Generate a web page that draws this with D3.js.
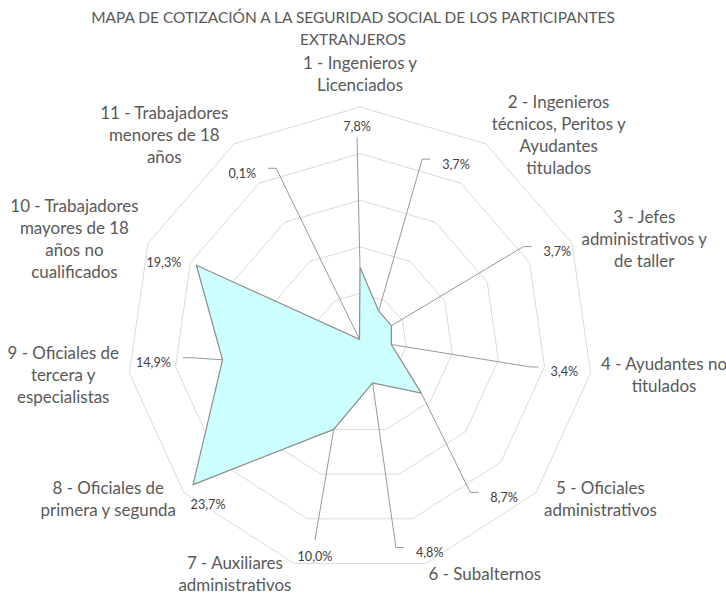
<!DOCTYPE html>
<html><head><meta charset="utf-8">
<script src="https://cdn.jsdelivr.net/npm/d3@7"></script>
<style>html,body{margin:0;padding:0;background:#fff;} svg{display:block}</style>
</head><body>
<svg id="chart" width="726" height="594"></svg>
<script>
// ---------- data ----------
const titleLines = ["MAPA DE COTIZACIÓN A LA SEGURIDAD SOCIAL DE LOS PARTICIPANTES", "EXTRANJEROS"];
const categories = [
  "1 - Ingenieros y Licenciados",
  "2 - Ingenieros técnicos, Peritos y Ayudantes titulados",
  "3 - Jefes administrativos y de taller",
  "4 - Ayudantes no titulados",
  "5 - Oficiales administrativos",
  "6 - Subalternos",
  "7 - Auxiliares administrativos",
  "8 - Oficiales de primera y segunda",
  "9 - Oficiales de tercera y especialistas",
  "10 - Trabajadores mayores de 18 años no cualificados",
  "11 - Trabajadores menores de 18 años"
];
const categoryLines = [
  ["1 - Ingenieros y", "Licenciados"],
  ["2 - Ingenieros", "técnicos, Peritos y", "Ayudantes", "titulados"],
  ["3 - Jefes", "administrativos y", "de taller"],
  ["4 - Ayudantes no", "titulados"],
  ["5 - Oficiales", "administrativos"],
  ["6 - Subalternos"],
  ["7 - Auxiliares", "administrativos"],
  ["8 - Oficiales de", "primera y segunda"],
  ["9 - Oficiales de", "tercera y", "especialistas"],
  ["10 - Trabajadores", "mayores de 18", "años no", "cualificados"],
  ["11 - Trabajadores", "menores de 18", "años"]
];
const values = [7.8, 3.7, 3.7, 3.4, 8.7, 4.8, 10.0, 23.7, 14.9, 19.3, 0.1];
const gridTicks = [5, 10, 15, 20, 25];
// data-label placement (radius in value units, angular nudge in degrees)
const labelRadius = [22.9, 21.5, 23.2, 22.2, 22.9, 24.0, 23.7, 24.0, 22.3, 22.6, 21.9];
const labelAngleShift = [-0.8, -4.1, 0.4, 0.7, 6.6, -1.8, -4.6, -6.3, 1.9, -3.1, -2.5];

// ---------- layout ----------
const cx = 360, cy = 340, R = 233;
const font = "Lato, 'Open Sans', sans-serif";
const svg = d3.select("#chart");

function textWidth(text, size) {
  const t = svg.append("text").attr("font-family", font).attr("font-size", size).text(text);
  const w = t.node().getComputedTextLength();
  t.remove();
  return w;
}
const catSize = 100 * 113 / textWidth("administrativos", 100);
const lblSize = 100 * 35 / textWidth("23,7%", 100);
const titleSize = 100 * 524 / textWidth(titleLines[0], 100);

const n = categories.length;
const angle = d3.scaleLinear().domain([0, n]).range([0, 2 * Math.PI]);
const r = d3.scaleLinear().domain([0, 25]).range([0, R]);
const pt = (a, rad) => [cx + rad * Math.sin(a), cy - rad * Math.cos(a)];
const fmt = v => d3.format(".1f")(v).replace(".", ",") + "%";

// title
svg.append("g").selectAll("text").data(titleLines).join("text")
  .attr("x", 353).attr("y", (d, i) => 18 + i * 22 + 0.35 * titleSize)
  .attr("text-anchor", "middle").attr("font-family", font).attr("font-size", titleSize)
  .attr("fill", "#595959").text(d => d);

const g = svg.append("g").attr("transform", `translate(${cx},${cy})`);

// grid
const ringLine = d3.lineRadial().angle((d, i) => angle(i)).radius(d => r(d)).curve(d3.curveLinearClosed);
g.selectAll("path.ring").data(gridTicks).join("path").attr("class", "ring")
  .attr("d", t => ringLine(categories.map(() => t)))
  .attr("fill", "none").attr("stroke", "#d9d9d9").attr("stroke-width", 1);

// series area
g.append("path").datum(values)
  .attr("d", ringLine)
  .attr("fill", "#ccffff").attr("stroke", "#8c8c8c").attr("stroke-width", 1.2)
  .attr("stroke-linejoin", "miter");

// data labels + leaders
const labels = values.map((v, i) => {
  const p = pt(angle(i), r(v));
  const L = pt(angle(i) + labelAngleShift[i] * Math.PI / 180, r(labelRadius[i]));
  const text = fmt(v);
  return { p, L, text, w: textWidth(text, lblSize) };
});
const leaders = [];
labels.forEach(d => {
  const dx = d.p[0] - d.L[0], dy = d.p[1] - d.L[1];
  if (Math.hypot(dx, dy) < 40) return;
  const hw = d.w / 2 + 12;
  if (Math.abs(dx) <= hw) {
    leaders.push([d.p, [d.L[0], dy > 0 ? d.L[1] + 11 : d.L[1] - 16]]);
  } else {
    const s = Math.sign(dx);
    const end = [d.L[0] + s * hw, d.L[1] - 5];
    leaders.push([d.p, [end[0] + s * 8, end[1]], end]);
  }
});
svg.append("g").selectAll("path").data(leaders).join("path")
  .attr("d", d3.line()).attr("fill", "none").attr("stroke", "#999999").attr("stroke-width", 1);

svg.append("g").selectAll("text").data(labels).join("text")
  .attr("x", d => d.L[0]).attr("y", d => d.L[1] + 0.35 * lblSize)
  .attr("text-anchor", "middle").attr("font-family", font).attr("font-size", lblSize)
  .attr("fill", "#404040").text(d => d.text);

// category labels
const lineH = 22;
categoryLines.forEach((lines, i) => {
  const a = angle(i);
  const A = pt(a, R + 10.5);
  const s = Math.sin(a), c = Math.cos(a);
  const w = d3.max(lines, l => textWidth(l, catSize));
  const h = lines.length * lineH;
  let x = A[0], yc = A[1];
  if (s > 0.1) x = A[0] + w / 2; else if (s < -0.1) x = A[0] - w / 2;
  else yc = c > 0 ? A[1] - h / 2 : A[1] + h / 2;
  svg.append("g").selectAll("text").data(lines).join("text")
    .attr("x", x).attr("y", (d, k) => yc - h / 2 + lineH * (k + 0.5) + 0.35 * catSize)
    .attr("text-anchor", "middle").attr("font-family", font).attr("font-size", catSize)
    .attr("fill", "#595959").text(d => d);
});
</script>
</body></html>
